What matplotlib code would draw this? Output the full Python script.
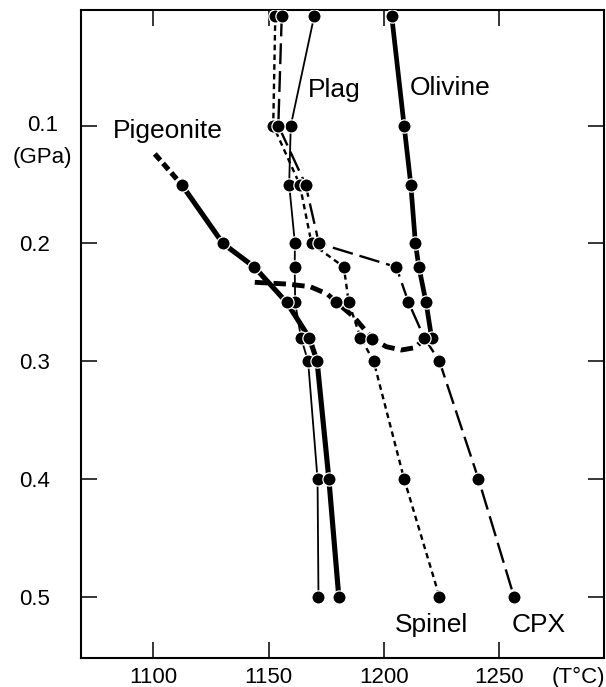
import matplotlib
matplotlib.use("Agg")
import matplotlib.pyplot as plt

plt.rcParams["font.family"] = ["Liberation Sans", "DejaVu Sans"]
plt.rcParams["lines.scale_dashes"] = False

# pressure steps (GPa); top row are the 1 atm runs
P_top = 0.0065
olivine_P = [P_top, 0.1, 0.15, 0.2, 0.22, 0.25, 0.28]
olivine_T = [1203.3, 1208.7, 1211.6, 1213.6, 1215.1, 1218.2, 1220.6]

plag_P = [P_top, 0.1, 0.15, 0.2, 0.22, 0.25, 0.28, 0.3, 0.4, 0.5]
plag_T = [1169.8, 1159.6, 1158.9, 1161.4, 1161.3, 1161.5, 1164.0, 1167.1, 1171.2, 1171.6]

spinel_P = [P_top, 0.1, 0.15, 0.2, 0.22, 0.25, 0.28, 0.3, 0.4, 0.5]
spinel_T = [1152.9, 1152.0, 1163.5, 1168.6, 1182.6, 1184.7, 1189.8, 1195.5, 1208.7, 1224.0]

cpx_P = [P_top, 0.1, 0.15, 0.2, 0.22, 0.25, 0.28, 0.3, 0.4, 0.5]
cpx_T = [1155.7, 1154.2, 1166.0, 1171.8, 1205.3, 1210.6, 1217.4, 1224.0, 1240.9, 1256.3]

pig_P = [0.15, 0.2, 0.22, 0.25, 0.28, 0.3, 0.4, 0.5]
pig_T = [1112.3, 1130.2, 1143.8, 1157.8, 1167.6, 1171.0, 1176.1, 1180.4]
# extrapolated part of the pigeonite curve
pig_ext_P = [0.124, 0.15]
pig_ext_T = [1100.7, 1112.3]

# heavy dashed boundary (no label)
bnd_P = [0.233, 0.2345, 0.2367, 0.243, 0.25, 0.2625, 0.281, 0.2877, 0.2905, 0.2885, 0.281]
bnd_T = [1144.0, 1158.0, 1168.0, 1175.5, 1179.4, 1187.0, 1195.0, 1201.0, 1207.5, 1213.5, 1217.4]
bnd_mark_P = [0.25, 0.281]
bnd_mark_T = [1179.4, 1195.0]

xticks = [1100, 1150, 1200, 1250]
yticks = [0.1, 0.2, 0.3, 0.4, 0.5]

fig = plt.figure(figsize=(6.06, 6.87), dpi=100)
ax = fig.add_axes([0.1332, 0.0426, 0.8635, 0.9428])

line_kw = dict(color="black", solid_capstyle="butt", dash_capstyle="butt", zorder=2)
ax.plot(olivine_T, olivine_P, lw=3.4, **line_kw)
ax.plot(plag_T, plag_P, lw=1.3, **line_kw)
ax.plot(spinel_T, spinel_P, lw=1.7, dashes=(4, 3), **line_kw)
ax.plot(cpx_T, cpx_P, lw=1.7, dashes=(15, 5), **line_kw)
ax.plot(pig_T, pig_P, lw=3.7, **line_kw)
ax.plot(pig_ext_T, pig_ext_P, lw=3.7, dashes=(6, 3), **line_kw)
ax.plot(bnd_T, bnd_P, lw=3.5, dashes=(9, 4.5), **line_kw)

mk = dict(ls="none", marker="o", ms=9.5, mfc="black", mec="white", mew=0.9, zorder=3)
for T, P in [(olivine_T, olivine_P), (plag_T, plag_P), (spinel_T, spinel_P),
             (cpx_T, cpx_P), (pig_T, pig_P), (bnd_mark_T, bnd_mark_P)]:
    ax.plot(T, P, **mk)

ax.set_xlim(1068.6, 1295.3)
ax.set_ylim(0.5518, 0.0018)

ax.set_xticks(xticks)
ax.set_xticklabels([str(t) for t in xticks])
ax.set_yticks(yticks)
ax.set_yticklabels(["" if y == 0.1 else f"{y:.1f}" for y in yticks])
ax.tick_params(direction="in", top=True, right=True, length=11.5, width=1.1,
               labelsize=16, pad=6.5)
ax.tick_params(axis="y", pad=22)
for s in ax.spines.values():
    s.set_linewidth(1.5)

yax = ax.get_yaxis_transform()
ax.text(-0.0736, 0.1, "0.1", transform=yax, ha="center", va="center", fontsize=16)
ax.text(-0.0736, 0.1274, "(GPa)", transform=yax, ha="center", va="center", fontsize=16)
ax.annotate("(T°C)", xy=(0.951, 0), xycoords="axes fraction", xytext=(0, -6.5),
            textcoords="offset points", ha="center", va="top", fontsize=16)

lab = dict(fontsize=19, ha="left", va="baseline")
ax.text(1082.7, 0.1104, "Pigeonite", **lab)
ax.text(1167.1, 0.0756, "Plag", **lab)
ax.text(1211.1, 0.0739, "Olivine", **lab)
ax.text(1204.7, 0.530, "Spinel", **lab)
ax.text(1255.4, 0.530, "CPX", **lab)

fig.savefig("out.png", dpi=100)
